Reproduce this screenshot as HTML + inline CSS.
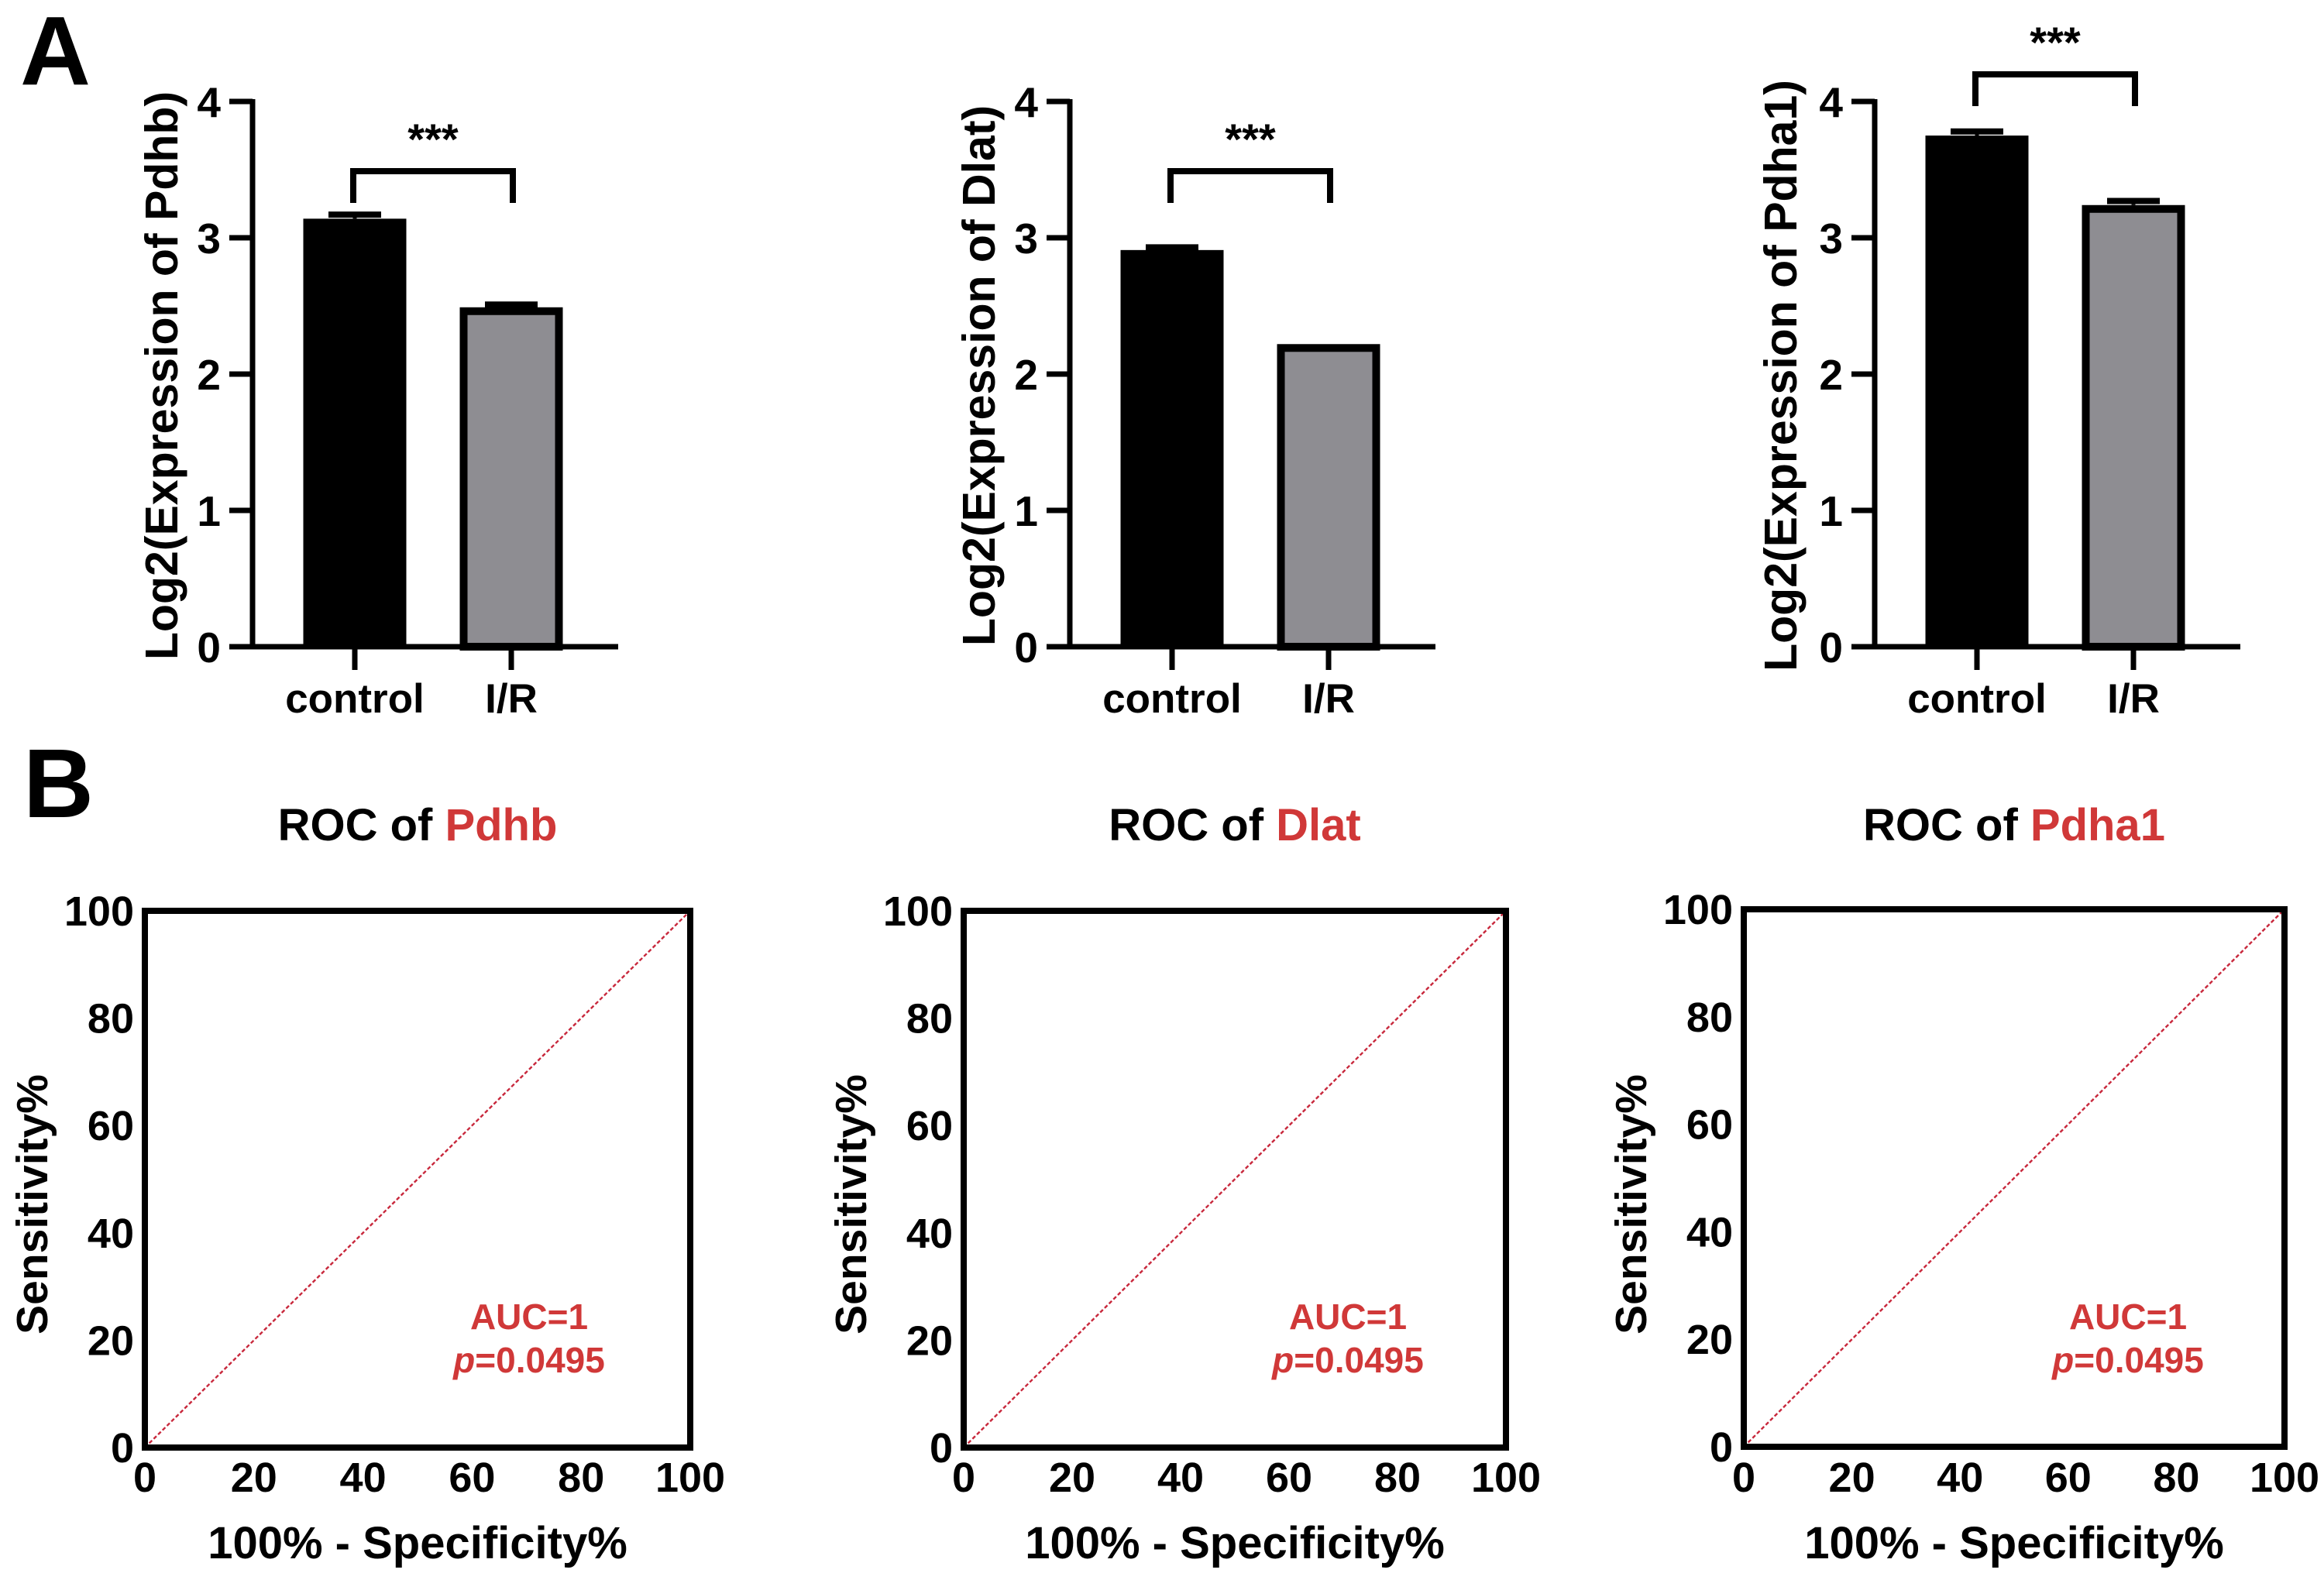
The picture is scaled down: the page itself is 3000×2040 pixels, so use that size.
<!DOCTYPE html>
<html><head><meta charset="utf-8">
<style>
html,body{margin:0;padding:0;background:#fff;}
svg{display:block;}
text{font-family:"Liberation Sans",Arial,sans-serif;font-weight:bold;}
</style></head>
<body>
<svg id="fig" width="3000" height="2040" viewBox="0 0 3000 2040" xmlns="http://www.w3.org/2000/svg">
<text x="26" y="109" font-size="126">A</text>
<text x="30" y="1055" font-size="126">B</text>
</svg>
<script>
// ---- Bar chart data ----
const genes = ["Pdhb", "Dlat", "Pdha1"];
const groups = ["control", "I/R"];
const controlMeans = [3.14, 2.91, 3.75];
const controlErr = [0.03, 0.02, 0.03];
const irMeans = [2.49, 2.22, 3.24];
const irErr = [0.02, 0.0, 0.03];
const yTicks = [0, 1, 2, 3, 4];
const sigLabels = ["***", "***", "***"];
// ---- ROC data ----
const rocTicks = [0, 20, 40, 60, 80, 100];
const rocRefX = [0, 100];
const rocRefY = [0, 100];
const aucValues = ["1", "1", "1"];
const pValues = ["0.0495", "0.0495", "0.0495"];

const NS = "http://www.w3.org/2000/svg";
const svg = document.getElementById("fig");
function mk(tag, attrs, parent) {
  const e = document.createElementNS(NS, tag);
  for (const k in attrs) e.setAttribute(k, attrs[k]);
  (parent || svg).appendChild(e);
  return e;
}

// bar panel layout
const barAxisX = [326, 1381, 2420];
const bracketY = [221, 221, 96];
const yTitleX = [208, 1263, 2298];
const y0 = 835, yTop = 131;
const yScale = v => y0 - (v / 4) * (y0 - yTop);

genes.forEach((g, i) => {
  const ax = barAxisX[i];
  const grp = mk("g", {});
  
  
  const xc = [ax + 132, ax + 334];
  const bw = 133;
  const vals = [controlMeans[i], irMeans[i]];
  const errs = [controlErr[i], irErr[i]];
  vals.forEach((v, j) => {
    const top = yScale(v);
    let r;
    if (j === 0) {
      r = mk("rect", {x: xc[j] - bw / 2, y: top, width: bw, height: y0 - top, fill: "#000"}, grp);
    } else {
      r = mk("rect", {x: xc[j] - bw / 2 + 5, y: top + 5, width: bw - 10, height: y0 - top - 5, fill: "#8e8d92", stroke: "#000", "stroke-width": 10}, grp);
    }
    
    
    if (errs[j] > 0) {
      const ey = yScale(v + errs[j]);
      const e1 = mk("line", {x1: xc[j], x2: xc[j], y1: ey, y2: top, stroke: "#000", "stroke-width": 5}, grp);
      
      
      const e2 = mk("line", {x1: xc[j] - 34, x2: xc[j] + 34, y1: ey, y2: ey, stroke: "#000", "stroke-width": 8}, grp);
      
      
    }
  });
  const ya = mk("line", {x1: ax, x2: ax, y1: yTop - 3, y2: y0 + 3, stroke: "#000", "stroke-width": 7}, grp);
  
  
  const xa = mk("line", {x1: ax - 30, x2: ax + 472, y1: y0, y2: y0, stroke: "#000", "stroke-width": 7}, grp);
  
  
  yTicks.forEach(t => {
    const y = yScale(t);
    mk("line", {x1: ax - 30, x2: ax, y1: y, y2: y, stroke: "#000", "stroke-width": 7}, grp);
    const tl = mk("text", {x: ax - 41, y: y + 20, "font-size": 55, "text-anchor": "end"}, grp);
    tl.textContent = t;
    
    
  });
  groups.forEach((c, j) => {
    mk("line", {x1: xc[j], x2: xc[j], y1: y0, y2: y0 + 30, stroke: "#000", "stroke-width": 7}, grp);
    const cl = mk("text", {x: xc[j], y: 920, "font-size": 53, "text-anchor": "middle"}, grp);
    cl.textContent = c;
    
    
  });
  const yt = mk("text", {x: 0, y: 0, "font-size": 59, "text-anchor": "middle", transform: `translate(${yTitleX[i] + 21},485) rotate(-90)`}, grp);
  yt.textContent = "Log2(Expression of " + g + ")";
  
  
  const by = bracketY[i];
  const br = mk("polyline", {points: `${xc[0] - 2},${by + 41} ${xc[0] - 2},${by} ${xc[1] + 2},${by} ${xc[1] + 2},${by + 41}`, fill: "none", stroke: "#000", "stroke-width": 8}, grp);
  
  
  const st = mk("text", {x: (xc[0] + xc[1]) / 2, y: by - 22, "font-size": 56, "text-anchor": "middle"}, grp);
  st.textContent = sigLabels[i];
  
  
});

// ROC panels
const boxL = [187, 1244, 2251];
const boxR = [891, 1944, 2949];
const boxT = [1176, 1176, 1174];
const boxB = [1869, 1869, 1868];
genes.forEach((g, i) => {
  const L = boxL[i], R = boxR[i], T = boxT[i], B = boxB[i];
  const sx = v => L + (v / 100) * (R - L);
  const sy = v => B - (v / 100) * (B - T);
  const grp = mk("g", {});
  
  
  const cx = (L + R) / 2;
  const tt = mk("text", {x: cx, y: 1085, "font-size": 58, "text-anchor": "middle"}, grp);
  tt.innerHTML = 'ROC of <tspan fill="#d03838">' + g + '</tspan>';
  
  
  const d = rocRefX.map((x, k) => (k ? "L" : "M") + sx(x) + "," + sy(rocRefY[k])).join(" ");
  const ln = mk("path", {d: d, fill: "none", stroke: "#c8283c", "stroke-width": 2.4, "stroke-dasharray": "5 3"}, grp);
  
  
  const box = mk("rect", {x: L, y: T, width: R - L, height: B - T, fill: "none", stroke: "#000", "stroke-width": 8}, grp);
  
  
  rocTicks.forEach(t => {
    const yl = mk("text", {x: L - 14, y: sy(t) + 19, "font-size": 54, "text-anchor": "end"}, grp);
    yl.textContent = t;
    
    
    const xl = mk("text", {x: sx(t), y: 1926, "font-size": 54, "text-anchor": "middle"}, grp);
    xl.textContent = t;
    
    
  });
  const xt = mk("text", {x: cx, y: 2012, "font-size": 58, "text-anchor": "middle"}, grp);
  xt.textContent = "100% - Specificity%";
  
  
  const yt = mk("text", {x: 0, y: 0, "font-size": 57, "text-anchor": "middle", transform: `translate(${L - 126},1555) rotate(-90)`}, grp);
  yt.textContent = "Sensitivity%";
  
  
  const a1 = mk("text", {x: L + 496, y: 1716, "font-size": 46, fill: "#d03838", "text-anchor": "middle"}, grp);
  a1.textContent = "AUC=" + aucValues[i];
  
  
  const a2 = mk("text", {x: L + 496, y: 1772, "font-size": 46, fill: "#d03838", "text-anchor": "middle"}, grp);
  a2.innerHTML = '<tspan font-style="italic">p</tspan>=' + pValues[i];
  
  
});
</script>
</body></html>
